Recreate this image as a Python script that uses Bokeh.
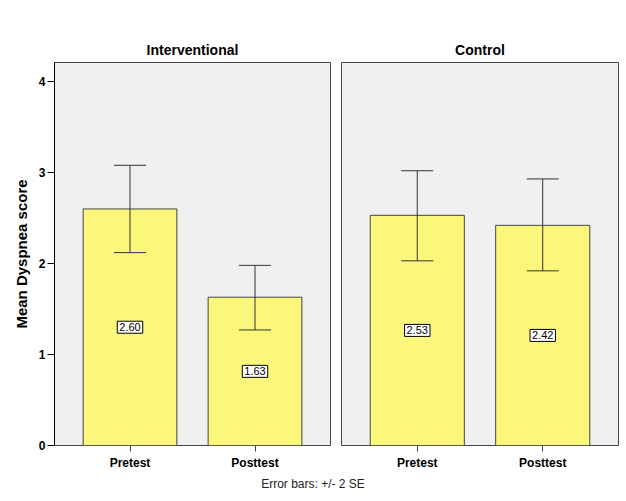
from bokeh.plotting import figure
from bokeh.models import (ColumnDataSource, FactorRange, Range1d, Whisker, TeeHead, Div)
from bokeh.core.properties import value
from bokeh.layouts import row, column
from bokeh.embed import file_html
from bokeh.resources import INLINE

categories = ["Pretest", "Posttest"]
panels = ["Interventional", "Control"]
means_interventional = [2.60, 1.63]
lower_interventional = [2.12, 1.27]
upper_interventional = [3.08, 1.98]
means_control = [2.53, 2.42]
lower_control = [2.03, 1.92]
upper_control = [3.02, 2.93]
y_label = "Mean Dyspnea score"
footer = "Error bars: +/- 2 SE"

FONT = "Liberation Sans"
BAR = "#FAF77A"
BG = "#F0F0F0"
EDGE = "#444444"

y_range = Range1d(0, 4.21)


def make_panel(title, means, lows, highs, first):
    src = ColumnDataSource(dict(
        cat=categories, mean=means, lo=lows, hi=highs,
        mid=[m / 2 for m in means], lab=["%.2f" % m for m in means]))
    if first:
        w, bl, br = 335, 54, 5
    else:
        w, bl, br = 291, 6, 8
    p = figure(x_range=FactorRange(*categories, range_padding=0.104),
               y_range=y_range, width=w, height=472,
               min_border_left=bl, min_border_right=br,
               min_border_top=62, min_border_bottom=27,
               toolbar_location=None, output_backend="svg",
               y_axis_location="left" if first else None,
               title=title)
    p.title.align = "center"
    p.title.text_font = FONT
    p.title.text_font_size = "14px"
    p.title.text_font_style = "bold"
    p.title.text_color = "black"
    p.background_fill_color = BG
    p.border_fill_color = "white"
    p.outline_line_color = EDGE
    p.outline_line_width = 1
    p.grid.visible = False

    p.vbar(x="cat", top="mean", width=0.75, source=src, fill_color=BAR,
           line_color=EDGE, line_width=1)
    wh = Whisker(base="cat", lower="lo", upper="hi", source=src, level="overlay",
                 line_color="#333333", line_width=1,
                 upper_head=TeeHead(size=32, line_color="#333333", line_width=1),
                 lower_head=TeeHead(size=32, line_color="#333333", line_width=1))
    p.add_layout(wh)
    p.text(x="cat", y="mid", text="lab", source=src,
           text_align="center", text_baseline="middle",
           text_font=value(FONT), text_font_size="11px", text_color="black",
           background_fill_color="white", border_line_color="black",
           border_line_width=1, padding=2)

    xa = p.xaxis[0]
    xa.axis_line_color = None
    xa.major_tick_out = 6
    xa.major_tick_in = 0
    xa.minor_tick_line_color = None
    xa.major_tick_line_color = EDGE
    xa.major_label_text_font = FONT
    xa.major_label_text_font_size = "12px"
    xa.major_label_text_font_style = "bold"
    xa.major_label_text_color = "black"
    xa.major_label_standoff = 4

    if first:
        ya = p.yaxis[0]
        ya.ticker = [0, 1, 2, 3, 4]
        ya.axis_line_color = "black"
        ya.major_tick_out = 7
        ya.major_tick_in = 0
        ya.minor_tick_line_color = None
        ya.major_tick_line_color = "black"
        ya.major_label_text_font = FONT
        ya.major_label_text_font_size = "12px"
        ya.major_label_text_font_style = "bold"
        ya.major_label_text_color = "black"
        ya.major_label_standoff = 2
        ya.axis_label = y_label
        ya.axis_label_text_font = FONT
        ya.axis_label_text_font_size = "15px"
        ya.axis_label_text_font_style = "bold"
        ya.axis_label_text_color = "black"
        ya.axis_label_standoff = 6
    return p


p1 = make_panel(panels[0], means_interventional, lower_interventional,
                upper_interventional, True)
p2 = make_panel(panels[1], means_control, lower_control, upper_control, False)

foot = Div(text=footer, width=626, height=29, margin=0,
           styles={"text-align": "center", "font-family": FONT,
                   "font-size": "12px", "color": "#222222",
                   "padding-top": "4px", "width": "626px"})

layout = column(row(p1, p2), foot)
open("out.html", "w").write(file_html(layout, INLINE))
